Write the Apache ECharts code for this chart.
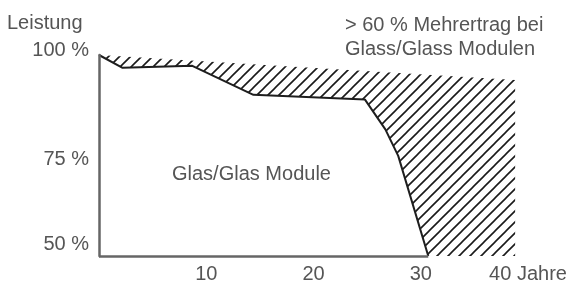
<!DOCTYPE html>
<html>
<head>
<meta charset="utf-8">
<script src="https://cdn.jsdelivr.net/npm/echarts@6/dist/echarts.min.js"></script>
<style>
  html, body { margin: 0; padding: 0; background: #fff; }
  #chart { width: 570px; height: 284px; }
</style>
</head>
<body>
<div id="chart"></div>
<script>
// Leistungskurve Glas/Glas Module (Jahre -> Leistung in %)
const curveYears = [0, 2.2, 8.7, 14.4, 24.8, 26.7, 27.9, 30.7];
const curveValues = [100, 96.8, 97.3, 90.1, 88.9, 81.5, 74.9, 50];

// obere Grenze der schraffierten Fläche (Mehrertrag)
const hatchYears = [0, 38.8];
const hatchTop = [100, 93.8];

const yTicks = [50, 75, 100];
const xTickLabels = { 10: '10', 20: '20', 30: '30', 40: '40 Jahre' };

const font = '"Liberation Sans", Arial, sans-serif';
const textColor = '#555';

// Schraffur als Canvas-Muster
function hatchPattern() {
  const size = 11;
  const c = document.createElement('canvas');
  c.width = size;
  c.height = size;
  const ctx = c.getContext('2d');
  ctx.strokeStyle = '#1a1a1a';
  ctx.lineWidth = 1.6;
  ctx.beginPath();
  ctx.moveTo(0, size); ctx.lineTo(size, 0);
  ctx.moveTo(-2, 2); ctx.lineTo(2, -2);
  ctx.moveTo(size - 2, size + 2); ctx.lineTo(size + 2, size - 2);
  ctx.stroke();
  return c;
}

const chart = echarts.init(document.getElementById('chart'));

chart.setOption({
  animation: false,
  textStyle: { fontFamily: font },
  grid: { left: 99, right: 42, top: 55, bottom: 26 },
  xAxis: {
    type: 'value',
    min: 0,
    max: 40,
    interval: 10,
    axisLine: { show: false },
    axisTick: { show: false },
    splitLine: { show: false },
    axisLabel: {
      margin: 8,
      fontSize: 20,
      color: textColor,
      fontFamily: font,
      formatter: v => xTickLabels[v] || ''
    }
  },
  yAxis: {
    type: 'value',
    min: 50,
    max: 100,
    interval: 25,
    z: 5,
    axisLine: { show: true, lineStyle: { color: '#666', width: 2.5 } },
    axisTick: { show: false },
    splitLine: { show: false },
    axisLabel: {
      margin: 10,
      fontSize: 20,
      color: textColor,
      fontFamily: font,
      formatter: v => yTicks.includes(v) ? '{l' + v + '|' + v + ' %}' : '',
      rich: {
        l100: { fontSize: 20, color: textColor, fontFamily: font, padding: [0, 0, 10, 0] },
        l75: { fontSize: 20, color: textColor, fontFamily: font, padding: [8, 0, 0, 0] },
        l50: { fontSize: 20, color: textColor, fontFamily: font, padding: [0, 0, 24, 0] }
      }
    }
  },
  series: [
    {
      name: 'Mehrertrag',
      type: 'line',
      z: 2,
      symbol: 'none',
      lineStyle: { width: 0, opacity: 0 },
      areaStyle: {
        origin: 'start',
        opacity: 1,
        color: { image: hatchPattern(), repeat: 'repeat' }
      },
      data: hatchYears.map((x, i) => [x, hatchTop[i]])
    },
    {
      name: 'Glas/Glas Module',
      type: 'line',
      z: 3,
      symbol: 'none',
      lineStyle: { color: '#1e1e1e', width: 2 },
      areaStyle: { origin: 'start', color: '#fff', opacity: 1 },
      data: curveYears.map((x, i) => [x, curveValues[i]]),
      markLine: {
        silent: true,
        symbol: 'none',
        label: { show: false },
        lineStyle: { color: '#666', width: 2.5, type: 'solid' },
        data: [[
          { coord: [curveYears[0], 50] },
          { coord: [curveYears[curveYears.length - 1], 50] }
        ]]
      }
    }
  ],
  graphic: [
    {
      type: 'text', left: 7, top: 13, z: 10,
      style: { text: 'Leistung', font: '20px ' + font, fill: textColor }
    },
    {
      type: 'text', left: 345, top: 13, z: 10,
      style: {
        text: '> 60 % Mehrertrag bei\nGlass/Glass Modulen',
        font: '20px ' + font, fill: textColor, lineHeight: 24
      }
    },
    {
      type: 'text', left: 172, top: 164, z: 10,
      style: { text: 'Glas/Glas Module', font: '20px ' + font, fill: textColor }
    }
  ]
});
</script>
</body>
</html>
